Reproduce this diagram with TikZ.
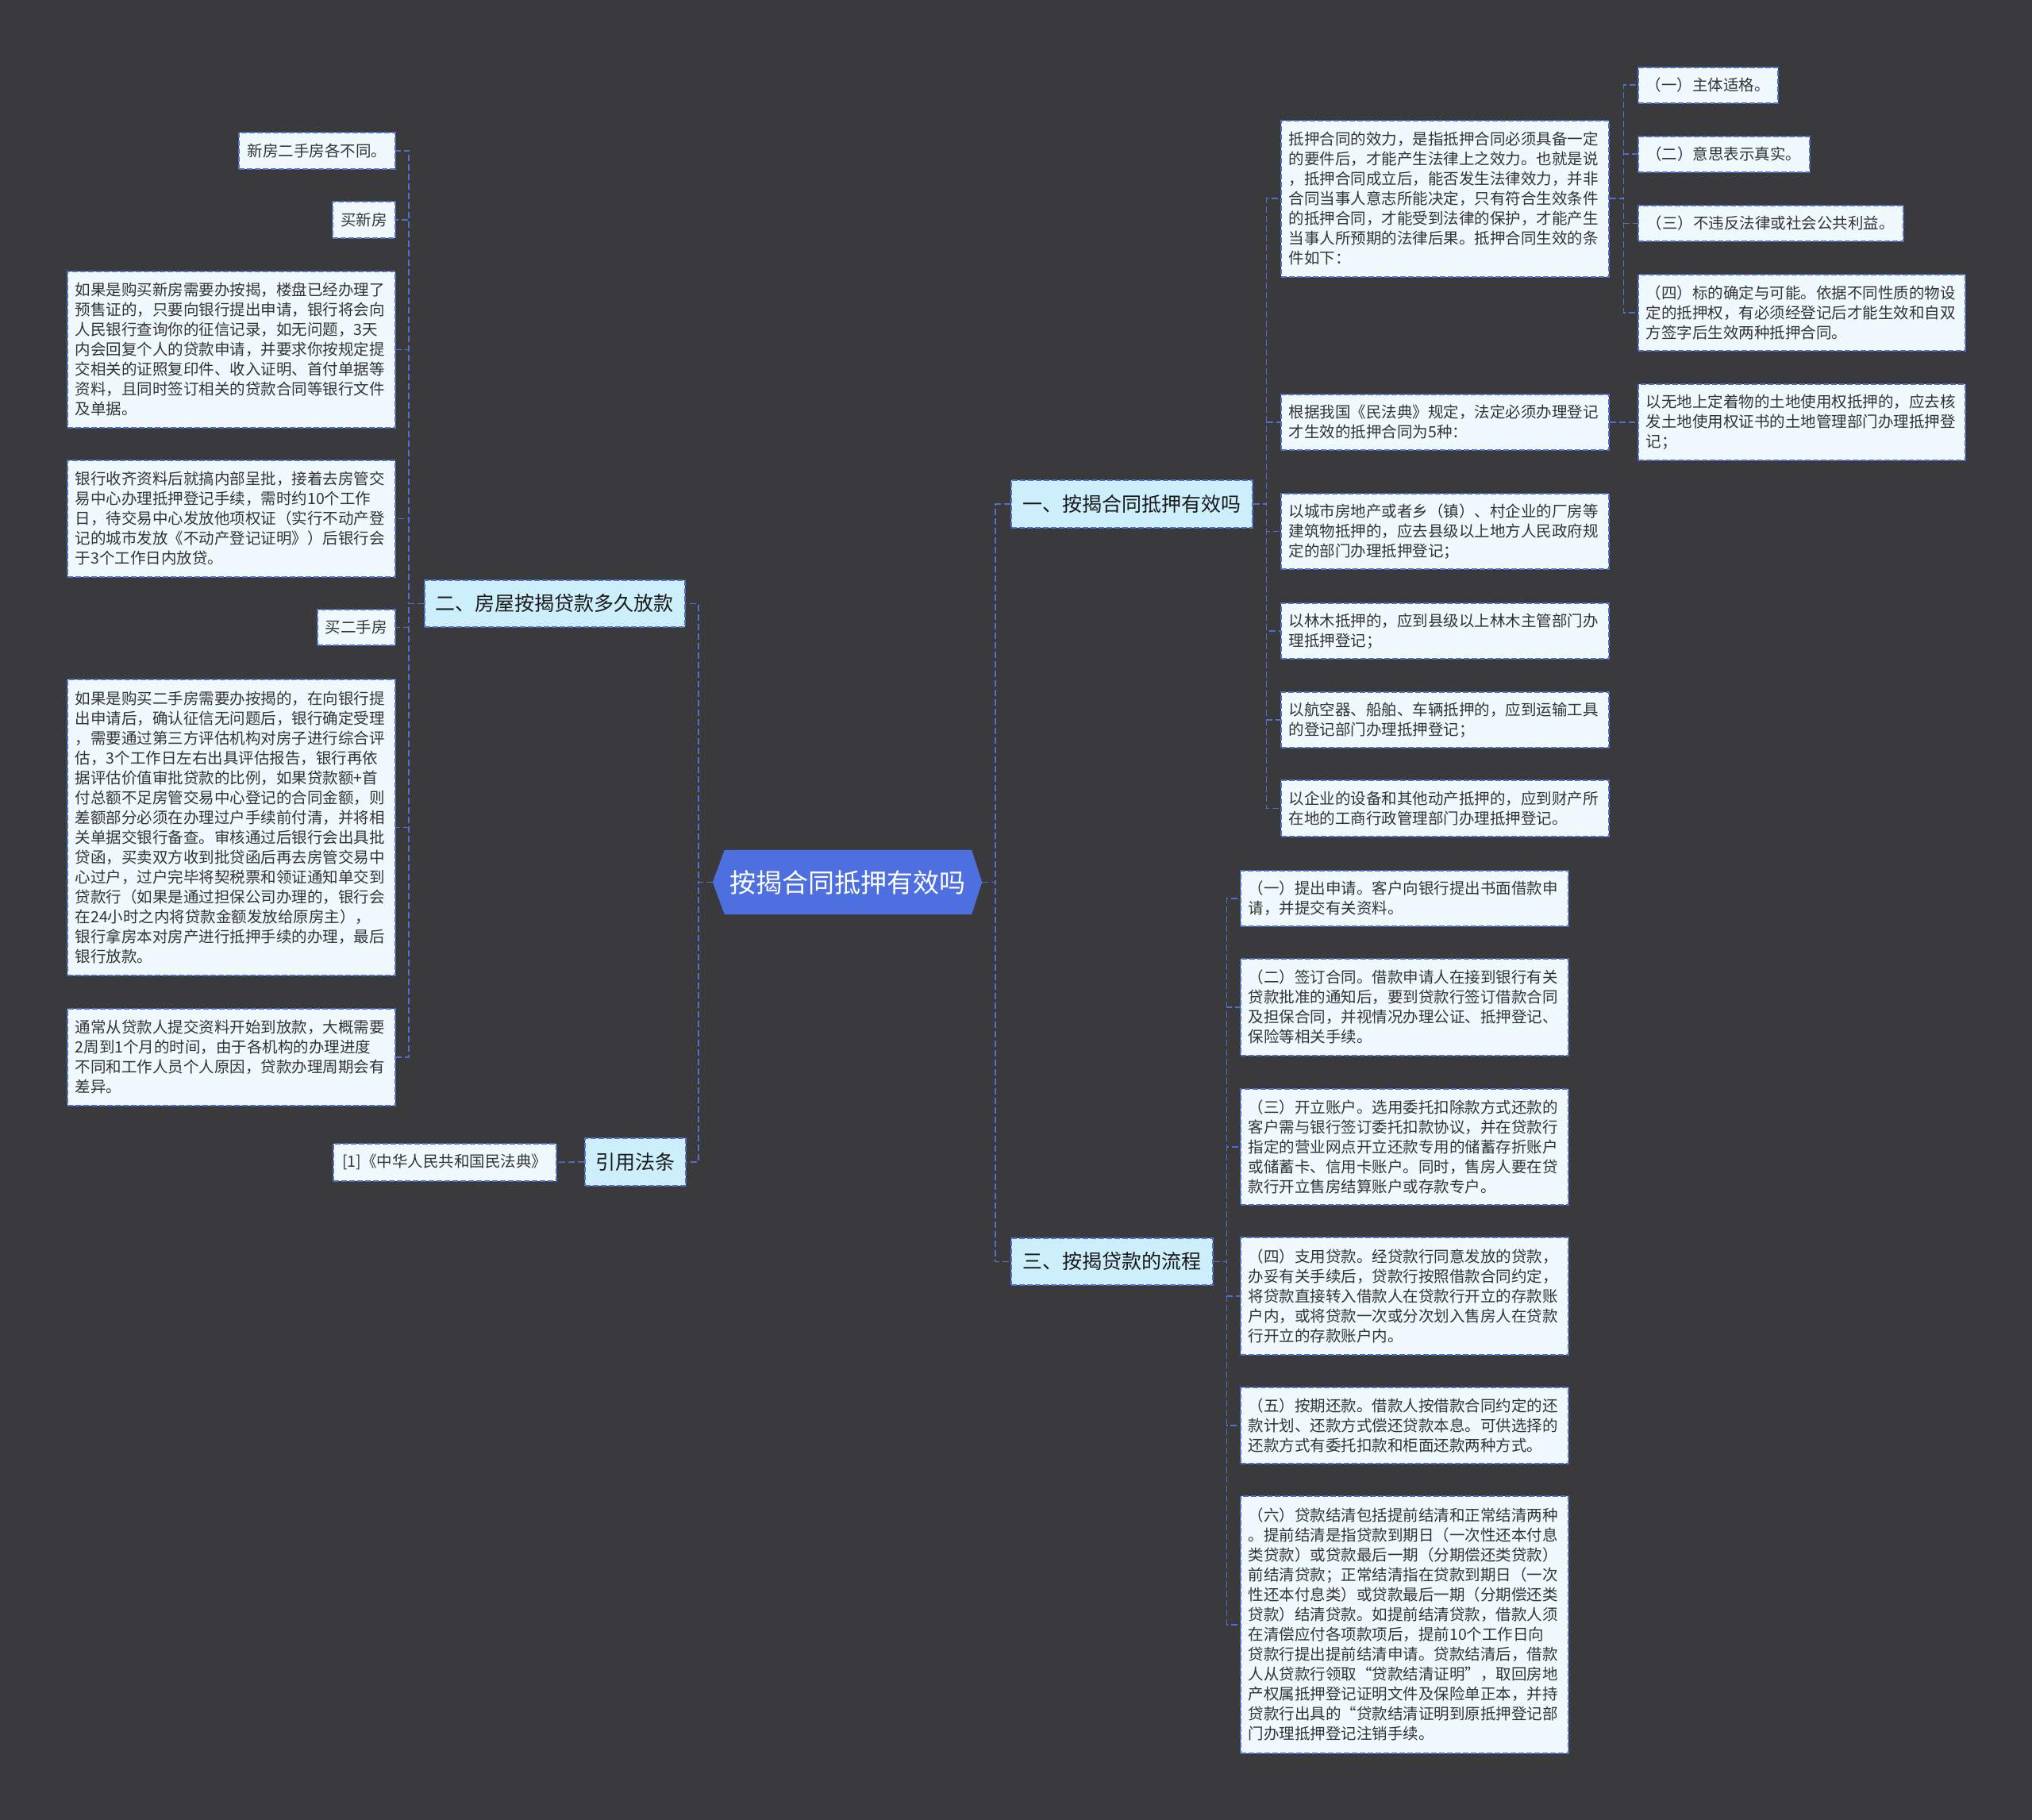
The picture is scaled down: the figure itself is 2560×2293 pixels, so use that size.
\documentclass[tikz,border=0pt]{standalone}
\usepackage{fontspec}
\newfontfamily\cjk{Noto Sans CJK SC}
\usetikzlibrary{backgrounds,calc}
\definecolor{bgc}{HTML}{3A393B}
\definecolor{leaffill}{HTML}{F0FAFE}
\definecolor{lvlfill}{HTML}{CDEEFB}
\definecolor{rootfill}{HTML}{4E6FDF}
\definecolor{edgec}{HTML}{5070CC}
\definecolor{txt}{HTML}{333333}
\tikzset{
  boxbase/.style={draw=edgec, line width=1.6pt, dash pattern=on 7pt off 3pt,
    anchor=north west, inner xsep=10pt, inner ysep=0pt, text=txt},
  leaf/.style={boxbase, fill=leaffill, font=\cjk\fontsize{19.5}{25}\selectfont},
  para/.style={leaf, align=left, text width=393pt},
  lvl/.style={boxbase, fill=lvlfill, font=\cjk\fontsize{25}{30}\selectfont, text=black!90},
  rootnode/.style={font=\cjk\fontsize{33}{38}\selectfont, text=white, inner sep=0pt,
    minimum width=339pt, minimum height=81pt},
  conn/.style={draw=edgec, line width=1.6pt, dash pattern=on 8pt off 4pt}
}
\begin{document}
\begin{tikzpicture}[x=1pt,y=-1pt]
\useasboundingbox (0,0) rectangle (2560,2293);
% root
\node[rootnode] (root) at (1067.5,1111.5) {按揭合同抵押有效吗};
\begin{scope}[on background layer]
  \fill[bgc] (0,0) rectangle (2560,2293);
  \fill[rootfill] ($(root.north west)+(15,0)$) -- ($(root.north east)+(-13,0)$) -- (root.east)
    -- ($(root.south east)+(-13,0)$) -- ($(root.south west)+(15,0)$) -- (root.west) -- cycle;
\end{scope}
% level 1
\node[lvl, minimum width=304pt, minimum height=60pt] (n1) at (1273,604) {一、按揭合同抵押有效吗};
\node[lvl, minimum width=328pt, minimum height=59pt] (n2) at (534,730) {二、房屋按揭贷款多久放款};
\node[lvl, minimum width=254pt, minimum height=59pt] (n3) at (1273,1559) {三、按揭贷款的流程};
\node[lvl, minimum width=127pt, minimum height=60pt] (n4) at (736,1433) {引用法条};
% left children
\node[leaf, minimum width=197pt, minimum height=46pt] (a1) at (300,166) {新房二手房各不同。};
\node[leaf, minimum width=79pt, minimum height=46pt] (a2) at (418,253) {买新房};
\node[para, minimum height=197pt] (a3) at (84,341) {如果是购买新房需要办按揭，楼盘已经办理了\\预售证的，只要向银行提出申请，银行将会向\\人民银行查询你的征信记录，如无问题，3天\\内会回复个人的贷款申请，并要求你按规定提\\交相关的证照复印件、收入证明、首付单据等\\资料，且同时签订相关的贷款合同等银行文件\\及单据。};
\node[para, minimum height=147pt] (a4) at (84,579) {银行收齐资料后就搞内部呈批，接着去房管交\\易中心办理抵押登记手续，需时约10个工作\\日，待交易中心发放他项权证（实行不动产登\\记的城市发放《不动产登记证明》）后银行会\\于3个工作日内放贷。};
\node[leaf, minimum width=98pt, minimum height=45pt] (a5) at (399,767) {买二手房};
\node[para, minimum height=373pt] (a6) at (84,855) {如果是购买二手房需要办按揭的，在向银行提\\出申请后，确认征信无问题后，银行确定受理\\，需要通过第三方评估机构对房子进行综合评\\估，3个工作日左右出具评估报告，银行再依\\据评估价值审批贷款的比例，如果贷款额+首\\付总额不足房管交易中心登记的合同金额，则\\差额部分必须在办理过户手续前付清，并将相\\关单据交银行备查。审核通过后银行会出具批\\贷函，买卖双方收到批贷函后再去房管交易中\\心过户，过户完毕将契税票和领证通知单交到\\贷款行（如果是通过担保公司办理的，银行会\\在24小时之内将贷款金额发放给原房主），\\银行拿房本对房产进行抵押手续的办理，最后\\银行放款。};
\node[para, minimum height=122pt] (a7) at (84,1270) {通常从贷款人提交资料开始到放款，大概需要\\2周到1个月的时间，由于各机构的办理进度\\不同和工作人员个人原因，贷款办理周期会有\\差异。};
\node[leaf, minimum width=281pt, minimum height=47pt] (f1) at (419,1440) {{[1]}《中华人民共和国民法典》};
% right children of n1
\node[para, minimum height=197pt] (b1) at (1613,151) {抵押合同的效力，是指抵押合同必须具备一定\\的要件后，才能产生法律上之效力。也就是说\\，抵押合同成立后，能否发生法律效力，并非\\合同当事人意志所能决定，只有符合生效条件\\的抵押合同，才能受到法律的保护，才能产生\\当事人所预期的法律后果。抵押合同生效的条\\件如下：};
\node[leaf, minimum width=176pt, minimum height=45pt] (c1) at (2063,84) {（一）主体适格。};
\node[leaf, minimum width=216pt, minimum height=45pt] (c2) at (2063,171) {（二）意思表示真实。};
\node[leaf, minimum width=334pt, minimum height=45pt] (c3) at (2063,258) {（三）不违反法律或社会公共利益。};
\node[para, text width=392pt, minimum height=96pt] (c4) at (2063,345) {（四）标的确定与可能。依据不同性质的物设\\定的抵押权，有必须经登记后才能生效和自双\\方签字后生效两种抵押合同。};
\node[para, minimum height=70pt] (b2) at (1613,496) {根据我国《民法典》规定，法定必须办理登记\\才生效的抵押合同为5种：};
\node[para, text width=392pt, minimum height=96pt] (d1) at (2063,483) {以无地上定着物的土地使用权抵押的，应去核\\发土地使用权证书的土地管理部门办理抵押登\\记；};
\node[para, minimum height=95pt] (b3) at (1613,621) {以城市房地产或者乡（镇）、村企业的厂房等\\建筑物抵押的，应去县级以上地方人民政府规\\定的部门办理抵押登记；};
\node[para, minimum height=70pt] (b4) at (1613,759) {以林木抵押的，应到县级以上林木主管部门办\\理抵押登记；};
\node[para, minimum height=70pt] (b5) at (1613,871) {以航空器、船舶、车辆抵押的，应到运输工具\\的登记部门办理抵押登记；};
\node[para, minimum height=71pt] (b6) at (1613,982) {以企业的设备和其他动产抵押的，应到财产所\\在地的工商行政管理部门办理抵押登记。};
% children of n3
\node[para, minimum height=70pt] (e1) at (1562,1096) {（一）提出申请。客户向银行提出书面借款申\\请，并提交有关资料。};
\node[para, minimum height=122pt] (e2) at (1562,1207) {（二）签订合同。借款申请人在接到银行有关\\贷款批准的通知后，要到贷款行签订借款合同\\及担保合同，并视情况办理公证、抵押登记、\\保险等相关手续。};
\node[para, minimum height=146pt] (e3) at (1562,1371) {（三）开立账户。选用委托扣除款方式还款的\\客户需与银行签订委托扣款协议，并在贷款行\\指定的营业网点开立还款专用的储蓄存折账户\\或储蓄卡、信用卡账户。同时，售房人要在贷\\款行开立售房结算账户或存款专户。};
\node[para, minimum height=148pt] (e4) at (1562,1558) {（四）支用贷款。经贷款行同意发放的贷款，\\办妥有关手续后，贷款行按照借款合同约定，\\将贷款直接转入借款人在贷款行开立的存款账\\户内，或将贷款一次或分次划入售房人在贷款\\行开立的存款账户内。};
\node[para, minimum height=96pt] (e5) at (1562,1747) {（五）按期还款。借款人按借款合同约定的还\\款计划、还款方式偿还贷款本息。可供选择的\\还款方式有委托扣款和柜面还款两种方式。};
\node[para, minimum height=324pt] (e6) at (1562,1884) {（六）贷款结清包括提前结清和正常结清两种\\。提前结清是指贷款到期日（一次性还本付息\\类贷款）或贷款最后一期（分期偿还类贷款）\\前结清贷款；正常结清指在贷款到期日（一次\\性还本付息类）或贷款最后一期（分期偿还类\\贷款）结清贷款。如提前结清贷款，借款人须\\在清偿应付各项款项后，提前10个工作日向\\贷款行提出提前结清申请。贷款结清后，借款\\人从贷款行领取“贷款结清证明”，取回房地\\产权属抵押登记证明文件及保险单正本，并持\\贷款行出具的“贷款结清证明到原抵押登记部\\门办理抵押登记注销手续。};
% connectors
\draw[conn] (root.west) -- ++(-18,0) |- (n2.east);
\draw[conn] (root.west) -- ++(-18,0) |- (n4.east);
\draw[conn] (root.east) -- ++(17,0) |- (n1.west);
\draw[conn] (root.east) -- ++(17,0) |- (n3.west);
\foreach \c in {a1,a2,a3,a4,a5,a6,a7}{\draw[conn] (n2.west) -- ++(-19,0) |- (\c.east);}
\draw[conn] (n4.west) -- (f1.east);
\foreach \c in {b1,b2,b3,b4,b5,b6}{\draw[conn] (n1.east) -- ++(17,0) |- (\c.west);}
\foreach \c in {c1,c2,c3,c4}{\draw[conn] (b1.east) -- ++(18,0) |- (\c.west);}
\draw[conn] (b2.east) -- (d1.west);
\foreach \c in {e1,e2,e3,e4,e5,e6}{\draw[conn] (n3.east) -- ++(17,0) |- (\c.west);}
\end{tikzpicture}
\end{document}
